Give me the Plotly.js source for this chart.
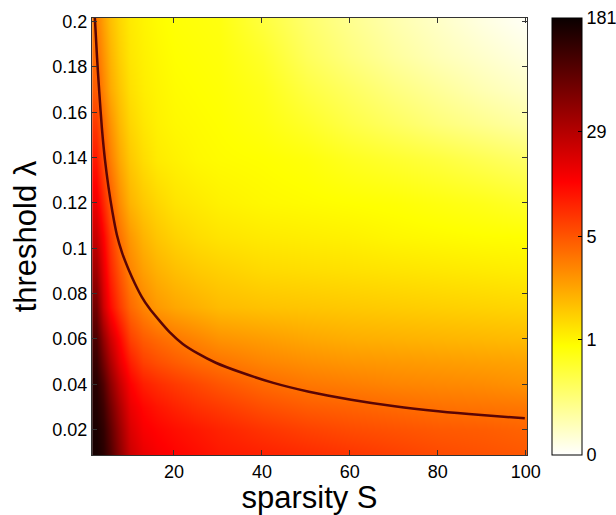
<!DOCTYPE html>
<html>
<head>
<meta charset="utf-8">
<script src="https://cdn.plot.ly/plotly-3.0.1.min.js"></script>
<style>html,body{margin:0;padding:0;background:#fff;}#chart{width:616px;height:515px;}</style>
</head>
<body>
<div id="chart"></div>
<script>
// Grid of sparsity values (x) and threshold values (y)
var sparsity = [2.2, 3.8, 5.5, 7.5, 10, 13, 16, 20, 25, 30, 40, 50, 60, 70, 80, 90, 100];
var threshold = [0.01, 0.02, 0.03, 0.04, 0.05, 0.06, 0.074, 0.09, 0.105, 0.12, 0.139, 0.155, 0.17, 0.185, 0.2];

// Colour level (0..1 of the colour bar), one row per threshold
var row010 = [0.98, 0.95, 0.89, 0.80, 0.70, 0.655, 0.635, 0.62, 0.605, 0.59, 0.575, 0.56, 0.545, 0.53, 0.515, 0.505, 0.495];
var row020 = [0.975, 0.94, 0.87, 0.78, 0.68, 0.635, 0.62, 0.605, 0.59, 0.575, 0.55, 0.53, 0.515, 0.505, 0.495, 0.49, 0.48];
var row030 = [0.965, 0.92, 0.84, 0.75, 0.655, 0.615, 0.595, 0.575, 0.555, 0.54, 0.51, 0.49, 0.48, 0.47, 0.46, 0.455, 0.45];
var row040 = [0.955, 0.89, 0.80, 0.71, 0.625, 0.58, 0.56, 0.54, 0.52, 0.50, 0.47, 0.45, 0.44, 0.43, 0.425, 0.42, 0.41];
var row050 = [0.93, 0.84, 0.75, 0.66, 0.58, 0.53, 0.51, 0.49, 0.47, 0.455, 0.43, 0.415, 0.405, 0.40, 0.395, 0.39, 0.385];
var row060 = [0.90, 0.79, 0.70, 0.62, 0.53, 0.49, 0.47, 0.45, 0.43, 0.41, 0.395, 0.38, 0.37, 0.365, 0.36, 0.355, 0.35];
var row074 = [0.84, 0.70, 0.61, 0.54, 0.47, 0.43, 0.40, 0.38, 0.365, 0.35, 0.34, 0.335, 0.33, 0.325, 0.32, 0.315, 0.31];
var row090 = [0.77, 0.66, 0.57, 0.50, 0.43, 0.39, 0.365, 0.345, 0.33, 0.32, 0.305, 0.30, 0.295, 0.29, 0.285, 0.28, 0.275];
var row105 = [0.71, 0.625, 0.54, 0.46, 0.40, 0.36, 0.335, 0.315, 0.30, 0.29, 0.28, 0.275, 0.27, 0.262, 0.257, 0.252, 0.25];
var row120 = [0.65, 0.57, 0.49, 0.42, 0.36, 0.33, 0.31, 0.29, 0.28, 0.27, 0.26, 0.255, 0.25, 0.245, 0.235, 0.225, 0.21];
var row139 = [0.59, 0.51, 0.44, 0.38, 0.33, 0.30, 0.28, 0.27, 0.26, 0.255, 0.25, 0.24, 0.22, 0.205, 0.19, 0.17, 0.15];
var row155 = [0.54, 0.47, 0.41, 0.355, 0.31, 0.285, 0.27, 0.26, 0.255, 0.25, 0.235, 0.21, 0.18, 0.155, 0.13, 0.11, 0.09];
var row170 = [0.49, 0.43, 0.375, 0.335, 0.295, 0.275, 0.265, 0.255, 0.25, 0.245, 0.225, 0.185, 0.155, 0.125, 0.10, 0.075, 0.055];
var row185 = [0.465, 0.41, 0.36, 0.32, 0.285, 0.27, 0.26, 0.25, 0.245, 0.24, 0.21, 0.16, 0.125, 0.095, 0.07, 0.05, 0.03];
var row200 = [0.44, 0.39, 0.345, 0.31, 0.28, 0.265, 0.255, 0.245, 0.24, 0.235, 0.19, 0.145, 0.11, 0.08, 0.055, 0.03, 0.01];

// Black boundary curve
var curveS = [2.0, 2.5, 3.0, 3.6, 4.3, 5.1, 6.0, 7.0, 8.2, 9.6, 11.1, 12.7, 14.4, 16.5, 19.0, 22.0, 25.5, 29.5, 35.0, 42.6, 50.7, 60.3, 70.2, 80.1, 89.9, 99.8];
var curveL = [0.2016, 0.184, 0.169, 0.153, 0.139, 0.127, 0.116, 0.106, 0.098, 0.091, 0.0845, 0.0785, 0.0735, 0.0685, 0.0630, 0.0578, 0.0535, 0.0495, 0.0454, 0.0406, 0.0367, 0.0332, 0.0303, 0.0281, 0.0264, 0.0250];

// Colour bar labels
var cbTickVals = [0, 0.265, 0.5, 0.74, 1];
var cbTickText = ['0', '1', '5', '29', '181'];
var xTickVals = [20, 40, 60, 80, 100];
var yTickVals = [0.02, 0.04, 0.06, 0.08, 0.1, 0.12, 0.14, 0.16, 0.18, 0.2];
var yTickText = ['0.02', '0.04', '0.06', '0.08', '0.1', '0.12', '0.14', '0.16', '0.18', '0.2'];

var zRows = [row010, row020, row030, row040, row050, row060, row074, row090, row105, row120, row139, row155, row170, row185, row200];

var font = 'Liberation Sans, Arial, Helvetica, sans-serif';

var heat = {
  type: 'heatmap',
  x: sparsity,
  y: threshold,
  z: zRows,
  zmin: 0, zmax: 1,
  zsmooth: 'best',
  colorscale: [[0, 'rgb(255,255,255)'], [0.25, 'rgb(255,255,0)'], [0.625, 'rgb(255,0,0)'], [1, 'rgb(10,0,0)']],
  hoverinfo: 'skip',
  colorbar: {
    x: 1.0575, xanchor: 'left', xpad: 0,
    y: 0.5, yanchor: 'middle', ypad: 0,
    len: 1, lenmode: 'fraction',
    thickness: 30, thicknessmode: 'pixels',
    outlinecolor: '#000', outlinewidth: 1,
    tickmode: 'array', tickvals: cbTickVals, ticktext: cbTickText,
    ticks: 'inside', ticklen: 4, tickcolor: '#000',
    tickfont: {family: font, size: 18, color: '#000'}
  }
};

var curve = {
  type: 'scatter', mode: 'lines',
  x: curveS, y: curveL,
  line: {color: '#5a0505', width: 2.5, shape: 'spline', smoothing: 0.8},
  hoverinfo: 'skip', showlegend: false
};

var axisCommon = {
  showline: true, mirror: 'ticks', linecolor: '#333', linewidth: 1,
  ticks: 'inside', ticklen: 5, tickcolor: '#333',
  showgrid: false, zeroline: false,
  tickfont: {family: font, size: 18, color: '#000'}
};

var layout = {
  width: 616, height: 515,
  margin: {l: 92, r: 89, t: 18, b: 60, pad: 0, autoexpand: false},
  paper_bgcolor: '#fff', plot_bgcolor: '#fff',
  showlegend: false,
  xaxis: Object.assign({}, axisCommon, {
    range: [1.35, 100.3], autorange: false,
    tickmode: 'array', tickvals: xTickVals,
    title: {text: 'sparsity S', font: {family: font, size: 31, color: '#000'}, standoff: 2}
  }),
  yaxis: Object.assign({}, axisCommon, {
    range: [0.0088, 0.2016], autorange: false,
    tickmode: 'array', tickvals: yTickVals, ticktext: yTickText,
    title: {text: 'threshold λ', font: {family: font, size: 31, color: '#000'}, standoff: 6}
  })
};

Plotly.newPlot('chart', [heat, curve], layout, {displayModeBar: false, staticPlot: true});
</script>
</body>
</html>
